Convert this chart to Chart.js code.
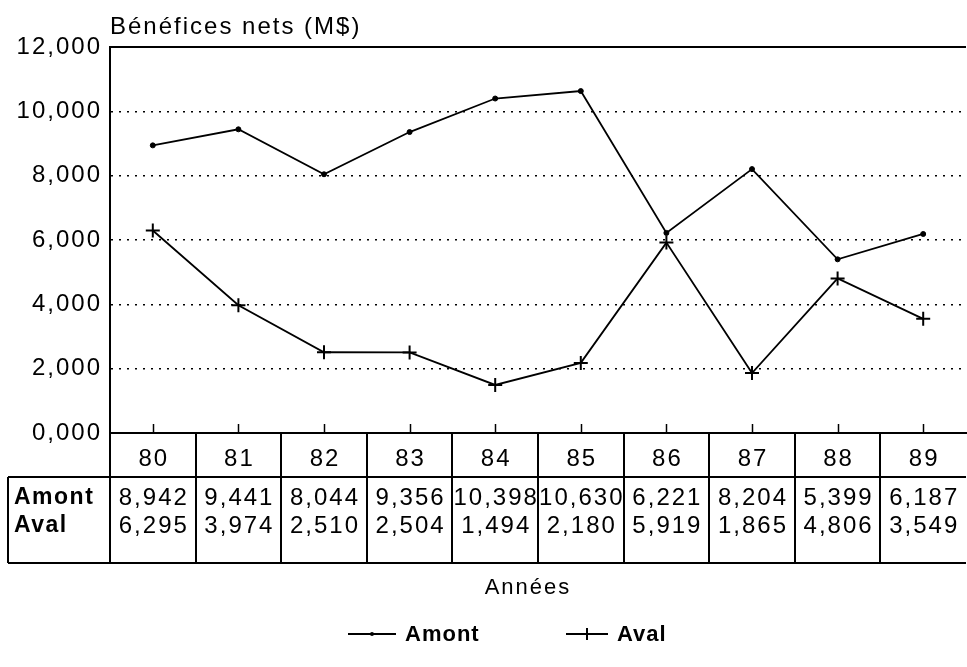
<!DOCTYPE html>
<html>
<head>
<meta charset="utf-8">
<script src="https://cdn.jsdelivr.net/npm/chart.js@4/dist/chart.umd.min.js"></script>
<style>
  html, body { margin: 0; padding: 0; background: #fff; }
  canvas { display: block; }
</style>
</head>
<body>
<canvas id="c" width="967" height="667"></canvas>
<script>
const categories = ['80', '81', '82', '83', '84', '85', '86', '87', '88', '89'];
const amont = [8942, 9441, 8044, 9356, 10398, 10630, 6221, 8204, 5399, 6187];
const aval = [6295, 3974, 2510, 2504, 1494, 2180, 5919, 1865, 4806, 3549];
const yTickLabels = ['0,000', '2,000', '4,000', '6,000', '8,000', '10,000', '12,000'];
const seriesNames = ['Amont', 'Aval'];
const chartTitle = 'Bénéfices nets (M$)';
const xTitle = 'Années';

const FONT = '"Liberation Sans", Arial, sans-serif';
const SPACING = '2px';

function fmt(v) {
  return Math.floor(v / 1000) + ',' + String(v % 1000).padStart(3, '0');
}

const tablePlugin = {
  id: 'tablePlugin',
  beforeDraw(chart) {
    chart.ctx.letterSpacing = SPACING;
  },
  afterDraw(chart) {
    const ctx = chart.ctx;
    const area = chart.chartArea;
    const xs = chart.scales.x;
    const n = categories.length;
    const xAt = i => xs.getPixelForValue(i);
    const half = (xAt(1) - xAt(0)) / 2;
    const top = area.top, bottom = area.bottom, left = area.left, right = area.right;
    const rowCat = bottom + 44;
    const tableBottom = bottom + 130;
    const tableLeft = 8;

    ctx.save();
    ctx.letterSpacing = SPACING;
    ctx.strokeStyle = '#000';
    ctx.fillStyle = '#000';

    // title
    ctx.font = '24px ' + FONT;
    ctx.textAlign = 'left';
    ctx.textBaseline = 'middle';
    ctx.fillText(chartTitle, left, 27);

    // top frame line
    ctx.lineWidth = 2;
    ctx.beginPath();
    ctx.moveTo(left - 1, top);
    ctx.lineTo(right, top);
    ctx.stroke();

    // tick marks pointing up from the axis
    ctx.lineWidth = 1.5;
    for (let i = 0; i < n; i++) {
      const x = Math.round(xAt(i)) + 0.5;
      ctx.beginPath();
      ctx.moveTo(x, bottom);
      ctx.lineTo(x, bottom - 9);
      ctx.stroke();
    }

    // table grid
    ctx.lineWidth = 2;
    ctx.beginPath();
    ctx.moveTo(left, bottom);
    ctx.lineTo(left, tableBottom);
    ctx.moveTo(tableLeft, rowCat);
    ctx.lineTo(right, rowCat);
    ctx.moveTo(tableLeft, tableBottom);
    ctx.lineTo(right, tableBottom);
    ctx.moveTo(tableLeft, rowCat);
    ctx.lineTo(tableLeft, tableBottom);
    for (let i = 0; i < n - 1; i++) {
      const x = Math.round(xAt(i) + half);
      ctx.moveTo(x, bottom);
      ctx.lineTo(x, tableBottom);
    }
    ctx.stroke();

    // category labels
    ctx.font = '24px ' + FONT;
    ctx.textAlign = 'center';
    ctx.textBaseline = 'middle';
    for (let i = 0; i < n; i++) {
      ctx.fillText(categories[i], xAt(i) + 1, bottom + 26);
    }

    // data rows
    const rows = [amont, aval];
    const rowY = [bottom + 65, bottom + 93];
    for (let r = 0; r < rows.length; r++) {
      ctx.font = 'bold 23px ' + FONT;
      ctx.letterSpacing = '1.5px';
      ctx.textAlign = 'left';
      ctx.fillText(seriesNames[r], tableLeft + 6, rowY[r]);
      ctx.font = '24px ' + FONT;
      ctx.letterSpacing = SPACING;
      ctx.textAlign = 'center';
      for (let i = 0; i < n; i++) {
        ctx.fillText(fmt(rows[r][i]), xAt(i) + 1, rowY[r]);
      }
    }

    // x title
    ctx.font = '22px ' + FONT;
    ctx.textAlign = 'center';
    ctx.fillText(xTitle, 528, 588);

    // legend
    const legendY = 634;
    const items = [
      { x0: 348, x1: 396, style: 'circle', r: 2 },
      { x0: 566, x1: 608, style: 'cross', r: 6 }
    ];
    for (let k = 0; k < items.length; k++) {
      const it = items[k];
      ctx.lineWidth = 2;
      ctx.beginPath();
      ctx.moveTo(it.x0, legendY);
      ctx.lineTo(it.x1, legendY);
      ctx.stroke();
      const mx = (it.x0 + it.x1) / 2;
      if (it.style === 'circle') {
        ctx.beginPath();
        ctx.arc(mx, legendY, it.r, 0, Math.PI * 2);
        ctx.fill();
      } else {
        ctx.beginPath();
        ctx.moveTo(mx, legendY - it.r);
        ctx.lineTo(mx, legendY + it.r);
        ctx.stroke();
      }
      ctx.font = 'bold 22px ' + FONT;
      ctx.letterSpacing = '1px';
      ctx.textAlign = 'left';
      ctx.fillText(seriesNames[k], it.x1 + 9, legendY + 1);
    }
    ctx.restore();
  }
};

new Chart(document.getElementById('c'), {
  type: 'line',
  data: {
    labels: categories,
    datasets: [
      {
        label: seriesNames[0],
        data: amont,
        borderColor: '#000',
        backgroundColor: '#000',
        borderWidth: 1.8,
        pointStyle: 'circle',
        pointRadius: 2.5,
        pointBorderWidth: 1,
        tension: 0
      },
      {
        label: seriesNames[1],
        data: aval,
        borderColor: '#000',
        backgroundColor: '#000',
        borderWidth: 1.8,
        pointStyle: 'cross',
        pointRadius: 7,
        pointBorderWidth: 2,
        tension: 0
      }
    ]
  },
  options: {
    responsive: false,
    devicePixelRatio: 1,
    animation: false,
    layout: { autoPadding: false, padding: { top: 47, bottom: 234, left: 0, right: 1 } },
    plugins: {
      legend: { display: false },
      title: { display: false },
      tooltip: { enabled: false }
    },
    scales: {
      x: {
        type: 'category',
        offset: true,
        grid: { display: false },
        ticks: { display: false },
        border: { display: true, color: '#000', width: 2 },
        afterFit(scale) { scale.height = 0; }
      },
      y: {
        min: 0,
        max: 12000,
        ticks: {
          stepSize: 2000,
          color: '#000',
          padding: 8,
          font: { family: FONT, size: 24 },
          callback: (v, i) => yTickLabels[i]
        },
        grid: {
          drawTicks: false,
          color: ctx => (ctx.tick && (ctx.tick.value === 0 || ctx.tick.value === 12000)) ? 'rgba(0,0,0,0)' : '#000',
          lineWidth: 1.5
        },
        border: { display: true, color: '#000', width: 2, dash: [2, 6] },
        afterFit(scale) { scale.width = 110; }
      }
    }
  },
  plugins: [tablePlugin]
});
</script>
</body>
</html>
